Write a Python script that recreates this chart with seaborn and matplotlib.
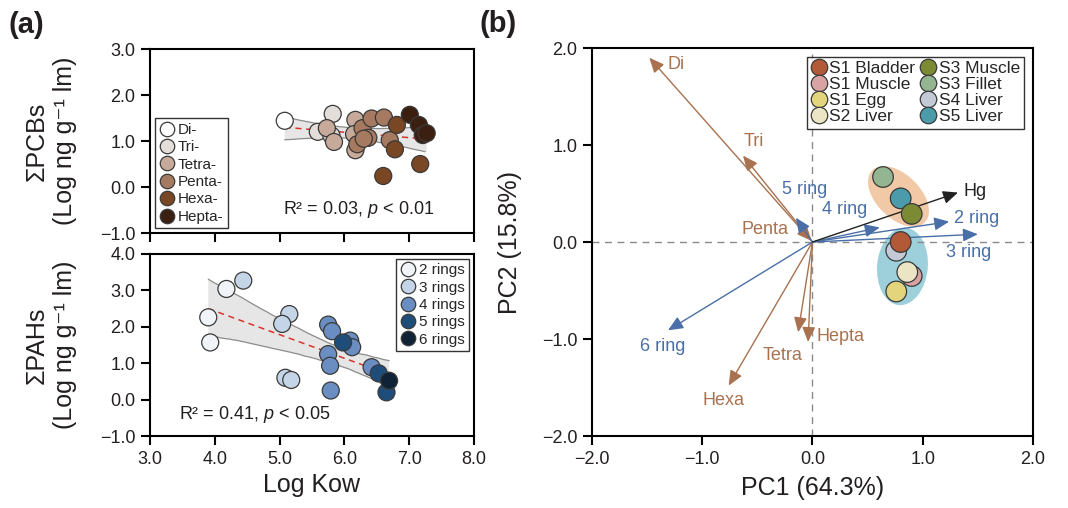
import numpy as np
import pandas as pd
import matplotlib
matplotlib.use("Agg")
import matplotlib.pyplot as plt
import seaborn as sns
from matplotlib.patches import Ellipse
from matplotlib.ticker import FuncFormatter

# ---------------- data ----------------
# Panel (a) top: PCBs
pcb_class = ["Di-", "Tri-", "Tri-", "Tri-", "Tetra-", "Tetra-", "Tetra-", "Tetra-", "Tetra-",
             "Penta-", "Penta-", "Penta-", "Penta-", "Penta-", "Penta-", "Penta-",
             "Hexa-", "Hexa-", "Hexa-", "Hexa-", "Hepta-", "Hepta-", "Hepta-", "Hepta-"]
pcb_logkow = [5.08, 5.59, 5.82, 5.80, 5.73, 5.84, 6.17, 6.17, 6.15,
              6.20, 6.28, 6.42, 6.37, 6.61, 6.70, 6.30,
              6.81, 6.78, 6.60, 7.17, 7.01, 7.15, 7.21, 7.27]
pcb_conc = [1.44, 1.20, 1.59, 1.12, 1.28, 0.98, 1.46, 0.80, 1.15,
            0.93, 1.28, 1.49, 1.07, 1.51, 1.02, 1.05,
            1.35, 0.82, 0.24, 0.50, 1.57, 1.35, 1.13, 1.17]
pcb_order = ["Di-", "Tri-", "Tetra-", "Penta-", "Hexa-", "Hepta-"]
pcb_colors = ["#ffffff", "#e4dedb", "#c8aa9a", "#a67a60", "#7a4724", "#3b1f10"]

# Panel (a) bottom: PAHs
pah_class = ["2 rings"] * 3 + ["3 rings"] * 5 + ["4 rings"] * 8 + ["5 rings"] * 3 + ["6 rings"]
pah_logkow = [3.90, 3.93, 4.18,
              4.44, 5.15, 5.04, 5.09, 5.18,
              5.75, 5.81, 5.75, 5.78, 5.79, 6.09, 6.12, 6.42,
              5.98, 6.53, 6.65,
              6.69]
pah_conc = [2.26, 1.57, 3.04,
            3.27, 2.35, 2.08, 0.60, 0.54,
            2.06, 1.88, 1.25, 0.93, 0.25, 1.62, 1.44, 0.89,
            1.57, 0.72, 0.20,
            0.52]
pah_order = ["2 rings", "3 rings", "4 rings", "5 rings", "6 rings"]
pah_colors = ["#f0f4f8", "#c5d5e8", "#6a8ec2", "#1f4d7a", "#0f2236"]

pcb_stat = "R² = 0.03, $\\mathit{p}$ < 0.01"
pah_stat = "R² = 0.41, $\\mathit{p}$ < 0.05"

# Panel (b): PCA scores
sample_names = ["S3 Fillet", "S5 Liver", "S3 Muscle", "S4 Liver", "S1 Bladder",
                "S1 Muscle", "S2 Liver", "S1 Egg"]
sample_pc1 = [0.64, 0.80, 0.90, 0.76, 0.80, 0.90, 0.86, 0.76]
sample_pc2 = [0.67, 0.45, 0.29, -0.09, 0.00, -0.35, -0.31, -0.51]
sample_group = ["A", "A", "A", "B", "B", "B", "B", "B"]
sample_order = ["S1 Bladder", "S1 Muscle", "S1 Egg", "S2 Liver",
                "S3 Muscle", "S3 Fillet", "S4 Liver", "S5 Liver"]
sample_colors = ["#b25a38", "#d9a3a3", "#e3d57c", "#ebe5c6",
                 "#7c8a34", "#94b592", "#c3cad5", "#4b9bab"]

# Panel (b): loadings
load_names = ["Di", "Tri", "Penta", "Tetra", "Hexa", "Hepta",
              "2 ring", "3 ring", "4 ring", "5 ring", "6 ring", "Hg"]
load_pc1 = [-1.48, -0.63, -0.10, -0.13, -0.76, -0.04,
            1.24, 1.50, 0.61, -0.15, -1.31, 1.32]
load_pc2 = [1.90, 0.89, 0.13, -0.93, -1.48, -1.03,
            0.21, 0.08, 0.15, 0.25, -0.91, 0.51]
load_group = ["PCB", "PCB", "PCB", "PCB", "PCB", "PCB",
              "PAH", "PAH", "PAH", "PAH", "PAH", "Hg"]

# ---------------- style ----------------
sns.set_theme(style="ticks")
plt.rcParams["font.family"] = ["Liberation Sans", "DejaVu Sans"]
plt.rcParams["mathtext.fontset"] = "custom"
plt.rcParams["mathtext.rm"] = "Liberation Sans"
plt.rcParams["mathtext.it"] = "Liberation Sans:italic"

TXT = "#231f20"
BROWN = "#a8714f"
BLUE = "#4a6fa8"
label_offsets = {"Di": (19, -5), "Tri": (8, 10), "Penta": (-26, 0), "Tetra": (-11, -17),
                 "Hexa": (-4, -11), "Hepta": (23, 4), "2 ring": (20, 2), "3 ring": (-7, -13),
                 "4 ring": (-25, 13), "5 ring": (6, 20), "6 ring": (-4, -12), "Hg": (12, 1)}
ell_style = {"A": dict(w=0.72, h=0.42, angle=-52, color="#f2c9a6"),
             "B": dict(w=0.46, h=0.80, angle=-4, color="#9dd0da")}

fmt = FuncFormatter(lambda v, p: f"{v:.1f}".replace("-", "\u2212"))

fig = plt.figure(figsize=(10.68, 5.08), dpi=100)
ax1 = fig.add_axes([0.1404, 0.5413, 0.3034, 0.3622])
ax2 = fig.add_axes([0.1404, 0.1417, 0.3034, 0.3583])
ax3 = fig.add_axes([0.5543, 0.1417, 0.4129, 0.7638])


def style_axes(ax):
    for s in ax.spines.values():
        s.set_linewidth(1.5)
        s.set_color("black")
        s.set_visible(True)
    ax.tick_params(direction="out", length=6.5, width=1.5, labelsize=13,
                   colors="black", labelcolor=TXT, pad=4)
    ax.grid(False)


df_pcb = pd.DataFrame({"x": pcb_logkow, "y": pcb_conc, "c": pcb_class})
df_pah = pd.DataFrame({"x": pah_logkow, "y": pah_conc, "c": pah_class})

for ax, df, order, cols in [(ax1, df_pcb, pcb_order, pcb_colors),
                            (ax2, df_pah, pah_order, pah_colors)]:
    sns.regplot(data=df, x="x", y="y", ax=ax, scatter=False, ci=95, truncate=True,
                color="#9a9a9a",
                line_kws=dict(color="#d9342b", ls=(0, (4, 3)), lw=1.1, zorder=3))
    band = ax.collections[-1]
    band.set_alpha(None)
    band.set_facecolor("#e6e6e6")
    band.set_edgecolor("none")
    # outline the upper and lower confidence limits (not the vertical ends)
    verts = band.get_paths()[0].vertices
    imax = int(np.argmax(verts[:, 0]))
    half1 = verts[1:imax]
    half2 = verts[imax + 1:-1]
    for hv in (half1, half2):
        if len(hv) > 1:
            ax.plot(hv[:, 0], hv[:, 1], color="#8c8c8c", lw=0.9, zorder=2)
    sns.scatterplot(data=df, x="x", y="y", hue="c", hue_order=order,
                    palette=dict(zip(order, cols)), s=150, edgecolor="#3a3a3a",
                    linewidth=0.9, ax=ax, zorder=4, legend=True)
    ax.set_xlim(3.0, 8.0)
    ax.set_xticks([3, 4, 5, 6, 7, 8])
    ax.set_xlabel("")
    ax.yaxis.set_major_formatter(fmt)
    style_axes(ax)

ax1.set_ylim(-1.0, 3.0)
ax1.set_yticks([-1, 0, 1, 2, 3])
ax1.set_xticklabels([])
ax2.set_ylim(-1.0, 4.0)
ax2.set_yticks([-1, 0, 1, 2, 3, 4])
ax2.xaxis.set_major_formatter(fmt)

ax2.set_xlabel("Log Kᴏᴡ", fontsize=18, color=TXT, labelpad=4)

ax1.set_ylabel("ΣPCBs\n(Log ng g⁻¹ lm)", fontsize=18, color=TXT, va="center",
               linespacing=1.25)
ax1.yaxis.set_label_coords(-0.305, 0.5)
ax2.set_ylabel("ΣPAHs\n(Log ng g⁻¹ lm)", fontsize=18, color=TXT, va="center",
               linespacing=1.25)
ax2.yaxis.set_label_coords(-0.305, 0.5)

ax1.text(0.645, 0.13, pcb_stat, transform=ax1.transAxes, ha="center", va="center",
         fontsize=13, color=TXT)
ax2.text(0.09, 0.12, pah_stat, transform=ax2.transAxes, ha="left", va="center",
         fontsize=13, color=TXT)

leg_kw = dict(fontsize=11, frameon=True, fancybox=False, edgecolor="black",
              handletextpad=0.2, labelspacing=0.22, borderpad=0.3, handlelength=1.0,
              borderaxespad=0.3, markerscale=0.85)
h, l = ax1.get_legend_handles_labels()
lg = ax1.legend(h, l, loc="lower left", **leg_kw)
lg.get_frame().set_linewidth(1.0)
h, l = ax2.get_legend_handles_labels()
lg = ax2.legend(h, l, loc="upper right", **leg_kw)
lg.get_frame().set_linewidth(1.0)

# ---------------- panel (b) ----------------
df_s = pd.DataFrame({"PC1": sample_pc1, "PC2": sample_pc2, "name": sample_names,
                     "g": sample_group})
for g, sub in df_s.groupby("g"):
    st = ell_style[g]
    ax3.add_patch(Ellipse((sub.PC1.mean(), sub.PC2.mean()), st["w"], st["h"],
                          angle=st["angle"], facecolor=st["color"], edgecolor="none",
                          zorder=1))

ax3.axhline(0, color="#8a8a8a", ls=(0, (5, 4)), lw=1.0, zorder=2)
ax3.axvline(0, color="#8a8a8a", ls=(0, (5, 4)), lw=1.0, zorder=2)

col_map = {"PCB": BROWN, "PAH": BLUE, "Hg": "#222222"}
astyle = "-|>,head_length=0.5,head_width=0.22"
for n, x, y, g in zip(load_names, load_pc1, load_pc2, load_group):
    c = col_map[g]
    if n == "Penta":
        ax3.annotate("", xy=(0, 0), xytext=(x, y),
                     arrowprops=dict(arrowstyle=astyle, color=c, lw=1.0,
                                     mutation_scale=18, shrinkA=0, shrinkB=1),
                     zorder=3)
    else:
        ax3.annotate("", xy=(x, y), xytext=(0, 0),
                     arrowprops=dict(arrowstyle=astyle, color=c, lw=1.0,
                                     mutation_scale=18, shrinkA=0, shrinkB=0),
                     zorder=3)
    ax3.annotate(n, xy=(x, y), xytext=label_offsets[n], textcoords="offset points",
                 ha="center", va="center", fontsize=13, color=c, zorder=5)

sns.scatterplot(data=df_s, x="PC1", y="PC2", hue="name", hue_order=sample_order,
                palette=dict(zip(sample_order, sample_colors)), s=220,
                edgecolor="#3a3a3a", linewidth=0.9, ax=ax3, zorder=4, legend=True)
ax3.set_xlim(-2, 2)
ax3.set_ylim(-2, 2)
ax3.set_xticks([-2, -1, 0, 1, 2])
ax3.set_yticks([-2, -1, 0, 1, 2])
ax3.xaxis.set_major_formatter(fmt)
ax3.yaxis.set_major_formatter(fmt)
style_axes(ax3)
ax3.set_xlabel("PC1 (64.3%)", fontsize=18, color=TXT, labelpad=6)
ax3.set_ylabel("PC2 (15.8%)", fontsize=18, color=TXT, va="center")
ax3.yaxis.set_label_coords(-0.186, 0.5)

h, l = ax3.get_legend_handles_labels()
lg = ax3.legend(h, l, loc="upper right", ncol=2, fontsize=12.5, frameon=True,
                fancybox=False, edgecolor="black", handletextpad=0.15,
                labelspacing=0.05, borderpad=0.25, handlelength=0.9, columnspacing=0.3,
                borderaxespad=0.5, markerscale=0.8)
lg.get_frame().set_linewidth(1.0)

fig.text(0.008, 0.95, "(a)", fontsize=21, fontweight="bold", color=TXT, va="center")
fig.text(0.449, 0.953, "(b)", fontsize=21, fontweight="bold", color=TXT, va="center")

fig.savefig("out.png", dpi=100)
